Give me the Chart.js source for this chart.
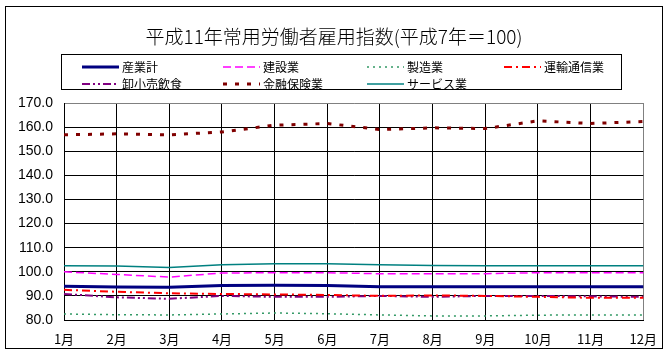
<!DOCTYPE html>
<html><head><meta charset="utf-8">
<script src="https://cdn.jsdelivr.net/npm/chart.js@4/dist/chart.umd.min.js"></script>
<style>
html,body{margin:0;padding:0;background:#fff;}
#wrap{position:relative;width:668px;height:354px;background:#fff;overflow:hidden;}
#c{position:absolute;left:0;top:0;}
#frame{position:absolute;left:5px;top:6px;width:658px;height:343px;box-sizing:border-box;border:1px solid #000;pointer-events:none;}
#title{position:absolute;left:0;top:24px;width:668px;text-align:center;font-family:"Noto Sans CJK JP",sans-serif;font-size:19px;line-height:24px;color:#000;font-weight:300;}
#legend{position:absolute;left:61px;top:54px;width:561px;height:36px;box-sizing:border-box;border:1px solid #000;background:#fff;}
.item{position:absolute;height:16px;font-family:"Noto Sans CJK JP",sans-serif;font-size:12px;line-height:16px;color:#000;white-space:nowrap;}
.item svg{position:absolute;left:0;top:0;}
.item span{position:absolute;left:40px;top:0;}
</style></head>
<body>
<div id="wrap">
<canvas id="c" width="668" height="354"></canvas>
<div id="title"></div>
<div id="legend"></div>
<div id="frame"></div>
</div>
<script>
const months = ['1月','2月','3月','4月','5月','6月','7月','8月','9月','10月','11月','12月'];
const seriesNames = ['産業計','建設業','製造業','運輸通信業','卸小売飲食','金融保険業','サービス業'];
const sangyokei = [94.0, 93.7, 93.6, 94.3, 94.4, 94.3, 93.8, 93.8, 93.8, 93.8, 93.8, 93.8];
const kensetsu  = [100.0, 98.9, 97.8, 99.5, 99.6, 99.6, 99.2, 99.2, 99.2, 99.6, 99.6, 99.6];
const seizo     = [82.5, 82.2, 82.1, 82.5, 82.9, 82.6, 82.1, 81.7, 81.7, 82.0, 82.1, 82.1];
const unyu      = [92.5, 91.7, 91.1, 90.8, 90.6, 90.4, 90.0, 90.2, 90.0, 89.6, 89.2, 89.2];
const oroshi    = [90.8, 89.4, 88.8, 90.0, 89.6, 89.6, 90.0, 89.6, 90.0, 90.0, 89.8, 89.6];
const kinyu     = [156.8, 157.2, 156.8, 158.0, 160.8, 161.5, 159.0, 159.7, 159.4, 162.6, 161.5, 162.3];
const service   = [102.5, 102.4, 101.8, 102.9, 103.3, 103.3, 102.9, 102.6, 102.5, 102.5, 102.5, 102.5];
const yTicks = [80,90,100,110,120,130,140,150,160,170];
const titleText = '平成11年常用労働者雇用指数(平成7年＝100)';

const styles = [
  {color:'#000080', width:3, dash:[]},
  {color:'#FF00FF', width:1.5, dash:[8,4]},
  {color:'#339966', width:1.5, dash:[2,4]},
  {color:'#FF0000', width:2, dash:[8,4,2,4]},
  {color:'#800080', width:2, dash:[8,3,2,3,2,3]},
  {color:'#800000', width:3, dash:[4,8]},
  {color:'#008080', width:1.5, dash:[]}
];
const values = [sangyokei, kensetsu, seizo, unyu, oroshi, kinyu, service];

document.getElementById('title').textContent = titleText;

const legendPos = [[20,4],[161,4],[305,4],[442,4],[20,21],[161,21],[305,21]];
const lg = document.getElementById('legend');
seriesNames.forEach((n,i)=>{
  const s = styles[i];
  const d = document.createElement('div');
  d.className='item';
  d.style.left = legendPos[i][0]+'px';
  d.style.top = legendPos[i][1]+'px';
  d.innerHTML = '<svg width="38" height="16"><line x1="0" y1="8" x2="37" y2="8" stroke="'+s.color+'" stroke-width="'+s.width+'" stroke-dasharray="'+(s.dash.length?s.dash.join(','):'none')+'"/></svg><span></span>';
  d.querySelector('span').textContent = n;
  lg.appendChild(d);
});

const datasets = seriesNames.map((n,i)=>({
  label:n, data:values[i], borderColor:styles[i].color, backgroundColor:styles[i].color,
  borderWidth:styles[i].width, borderDash:styles[i].dash, pointRadius:0, tension:0, fill:false
}));

new Chart(document.getElementById('c'), {
  type:'line',
  data:{labels:months, datasets},
  options:{
    responsive:false, animation:false, devicePixelRatio:1,
    layout:{padding:{left:5, top:103, right:24, bottom:6}},
    plugins:{legend:{display:false}, title:{display:false}, tooltip:{enabled:false}},
    scales:{
      x:{
        type:'category', offset:false,
        grid:{offset:false, color:(ctx)=> ctx.index===11 ? '#808080' : '#000', lineWidth:1, drawTicks:false},
        border:{color:'#000', width:1},
        ticks:{color:'#000', padding:11, maxRotation:0, autoSkip:false, font:{family:'"Noto Sans CJK JP", sans-serif', size:13}},
        afterFit:(s)=>{s.height = 28;}
      },
      y:{
        min:80, max:170,
        afterBuildTicks:(s)=>{s.ticks = yTicks.map(v=>({value:v}));},
        grid:{color:(ctx)=> (ctx.tick && ctx.tick.value===170) ? '#808080' : '#000', lineWidth:1, drawTicks:false},
        border:{color:'#000', width:1},
        ticks:{color:'#000', padding:11, callback:(v)=>Number(v).toFixed(1), font:{family:'"Liberation Sans", Arial, sans-serif', size:14}},
        afterFit:(s)=>{s.width = 59;}
      }
    }
  }
});
</script>
</body></html>
